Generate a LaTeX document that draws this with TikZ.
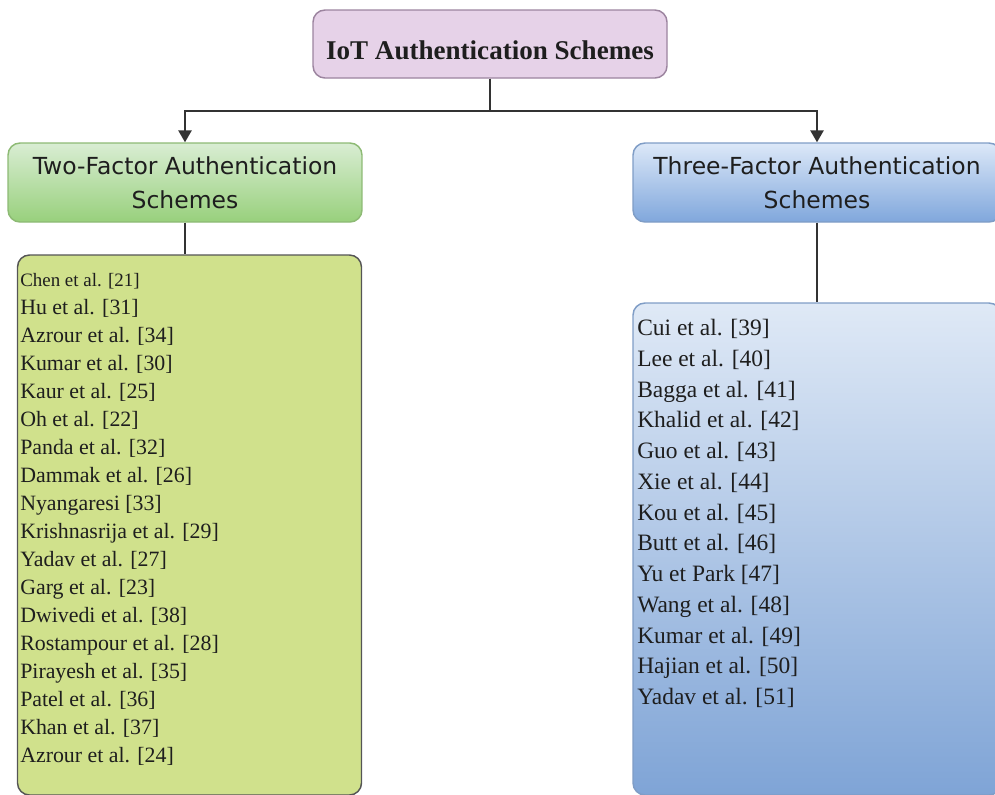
\documentclass[tikz,border=0pt]{standalone}
\usepackage{fontspec}
\setmainfont{Liberation Serif}
\newfontfamily\headfont{DejaVu Sans}
\usetikzlibrary{arrows.meta}
\definecolor{txt}{HTML}{1E1E1E}
\definecolor{linec}{HTML}{333333}
\definecolor{topfill}{HTML}{E6D2E8}
\definecolor{topdraw}{HTML}{9C849F}
\definecolor{gtop}{HTML}{D9EDD3}
\definecolor{gbot}{HTML}{98D07C}
\definecolor{gdraw}{HTML}{8DBA74}
\definecolor{listg}{HTML}{D0E18C}
\definecolor{listgdraw}{HTML}{555555}
\definecolor{btop}{HTML}{DCE8F8}
\definecolor{bbot}{HTML}{80A7DC}
\definecolor{bdraw}{HTML}{7F9DC6}
\definecolor{bltop}{HTML}{DFE9F6}
\definecolor{blbot}{HTML}{7FA4D6}
\begin{document}
\begin{tikzpicture}[x=0.75pt,y=-0.75pt,
  box/.style={rounded corners=9pt, line width=1.1pt, inner sep=0pt},
  topbox/.style={box, fill=topfill, draw=topdraw, font=\fontsize{20.3}{24}\selectfont\bfseries, text=txt},
  greenhead/.style={box, top color=gtop, bottom color=gbot, draw=gdraw, align=center, font=\headfont\fontsize{17.6}{25.5}\selectfont, text=txt},
  bluehead/.style={box, top color=btop, bottom color=bbot, draw=bdraw, align=center, font=\headfont\fontsize{17.6}{25.5}\selectfont, text=txt},
  greenlist/.style={box, fill=listg, draw=listgdraw},
  bluelist/.style={box, top color=bltop, bottom color=blbot, draw=bdraw},
  listtext/.style={anchor=north west, inner sep=0pt, align=left, text=txt},
  conn/.style={draw=linec, line width=1.4pt},
  arr/.style={conn, -{Triangle[width=10pt,length=9pt]}}
]
\useasboundingbox (0,0) rectangle (995,794);
\clip (0,0) rectangle (995,794);

\node[topbox, minimum width=265.5pt, minimum height=51pt] (top) at (490,44) {\raisebox{-5pt}[\height][\depth]{IoT Authentication Schemes}};
\node[greenhead, minimum width=265.5pt, minimum height=59.25pt] (lh) at (185,182.5) {Two-Factor Authentication\\Schemes};
\node[greenlist, minimum width=258pt, minimum height=405pt] (ll) at (189.5,525) {};
\node[bluehead, minimum width=276pt, minimum height=59.25pt] (rh) at (817,182.5) {Three-Factor Authentication\\Schemes};
\node[bluelist, minimum width=276pt, minimum height=369pt] (rl) at (817,549) {};

\node[listtext, font=\fontsize{16.4}{21}\selectfont] (lt) at (20,273) {%
{\fontsize{14.2}{21}\selectfont Chen et al. [21]}\\
Hu et al. [31]\\
Azrour et al. [34]\\
Kumar et al. [30]\\
Kaur et al. [25]\\
Oh et al. [22]\\
Panda et al. [32]\\
Dammak et al. [26]\\
Nyangaresi [33]\\
Krishnasrija et al. [29]\\
Yadav et al. [27]\\
Garg et al. [23]\\
Dwivedi et al. [38]\\
Rostampour et al. [28]\\
Pirayesh et al. [35]\\
Patel et al. [36]\\
Khan et al. [37]\\
Azrour et al. [24]};

\node[listtext, font=\fontsize{17.6}{23.06}\selectfont] (rt) at (637,319) {%
Cui et al. [39]\\
Lee et al. [40]\\
Bagga et al. [41]\\
Khalid et al. [42]\\
Guo et al. [43]\\
Xie et al. [44]\\
Kou et al. [45]\\
Butt et al. [46]\\
Yu et Park [47]\\
Wang et al. [48]\\
Kumar et al. [49]\\
Hajian et al. [50]\\
Yadav et al. [51]};

\draw[arr] (top.south) -- ++(0,32) -| (lh.north);
\draw[arr] (top.south) -- ++(0,32) -| (rh.north);
\draw[conn] (lh.south) -- (lh.south |- ll.north);
\draw[conn] (rh.south) -- (rl.north);
\end{tikzpicture}
\end{document}
